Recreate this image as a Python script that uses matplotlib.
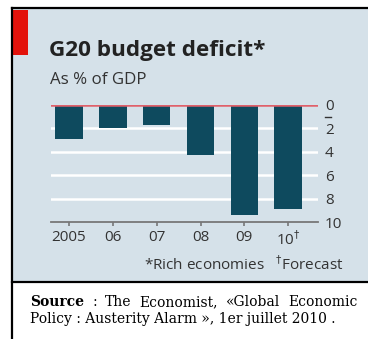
import matplotlib
matplotlib.use("Agg")
import matplotlib.pyplot as plt
from matplotlib.patches import Rectangle
from matplotlib.lines import Line2D

years = ["2005", "06", "07", "08", "09", "10$^{\\dagger}$"]
deficit = [2.9, 2.0, 1.7, 4.3, 9.4, 8.9]
yticks = [0, 2, 4, 6, 8, 10]

bg = "#d5e1e9"
bar_col = "#0e4a5e"
red = "#e3120b"

W, H = 368, 339
fig = plt.figure(figsize=(W / 100, H / 100), dpi=100)

def fx(px):
    return px / W

def fy(py):
    return 1 - py / H

# panel background and frame
fig.patches.append(Rectangle((fx(12), fy(282)), fx(356), 274 / H, transform=fig.transFigure,
                             facecolor=bg, edgecolor="none", zorder=-2))
fig.patches.append(Rectangle((fx(12), fy(55)), fx(16), 45 / H, transform=fig.transFigure,
                             facecolor=red, edgecolor="none", zorder=1))
for xs, ys in [([12, 368], [8, 8]), ([12, 12], [8, 339]), ([12, 368], [282, 282])]:
    fig.lines.append(Line2D([fx(x) for x in xs], [fy(y) for y in ys], transform=fig.transFigure,
                            color="black", lw=1.6, zorder=2))

fam = ["Open Sans", "DejaVu Sans"]
fig.text(fx(49), fy(56), "G20 budget deficit*", fontsize=16.2, fontweight="bold",
         family=fam, color="#222222", va="baseline")
fig.text(fx(50), fy(84), "As % of GDP", fontsize=12.2, family=fam, color="#333333", va="baseline")

ax = fig.add_axes([fx(51), fy(222), fx(318 - 51), (222 - 105) / H], zorder=5)
ax.set_facecolor("none")
x = list(range(len(years)))
ax.bar(x, deficit, width=0.63, color=bar_col, zorder=2)
ax.set_xlim(-0.41, 5.68)
ax.set_ylim(10, 0)
for v in yticks[1:-1]:
    ax.axhline(v, color="white", lw=1.8, zorder=1)
ax.axhline(0, color="#e0606a", lw=1.8, zorder=3)
for s in ["top", "left", "right"]:
    ax.spines[s].set_visible(False)
ax.spines["bottom"].set_color("#777777")
ax.spines["bottom"].set_linewidth(1.3)
ax.yaxis.tick_right()
ax.set_yticks(yticks)
ax.set_yticklabels([str(v) for v in yticks], family=fam, fontsize=11, color="#333333")
ax.tick_params(axis="y", length=0, pad=5)
ax.set_xticks(x)
ax.set_xticklabels(years, family=fam, fontsize=11, color="#333333")
ax.tick_params(axis="x", length=3, width=1.2, color="#777777", pad=3)
# small minus under the 0 label
fig.lines.append(Line2D([fx(325), fx(331)], [fy(116.5), fy(116.5)], transform=fig.transFigure,
                        color="#333333", lw=1.0, zorder=6))

fig.text(fx(343), fy(270), "*Rich economies   $^{\\dagger}$Forecast", ha="right", va="baseline",
         fontsize=11, family=fam, color="#333333")

# source note, first line justified
serif = ["DejaVu Serif"]
fs = 10
words = [("Source", "bold"), (":", "normal"), ("The", "normal"), ("Economist,", "normal"),
         ("«Global", "normal"), ("Economic", "normal")]
renderer = fig.canvas.get_renderer()
arts = [fig.text(0, fy(306), w, fontsize=fs, fontweight=wt, family=serif, va="baseline")
        for w, wt in words]
widths = [a.get_window_extent(renderer).width for a in arts]
gap = (358 - 30 - sum(widths)) / (len(words) - 1)
pos = 30
for a, w in zip(arts, widths):
    a.set_x(fx(pos))
    pos += w + gap
fig.text(fx(30), fy(323), "Policy : Austerity Alarm », 1er juillet 2010 .", fontsize=fs,
         family=serif, va="baseline")

fig.savefig("out.png", dpi=100)
